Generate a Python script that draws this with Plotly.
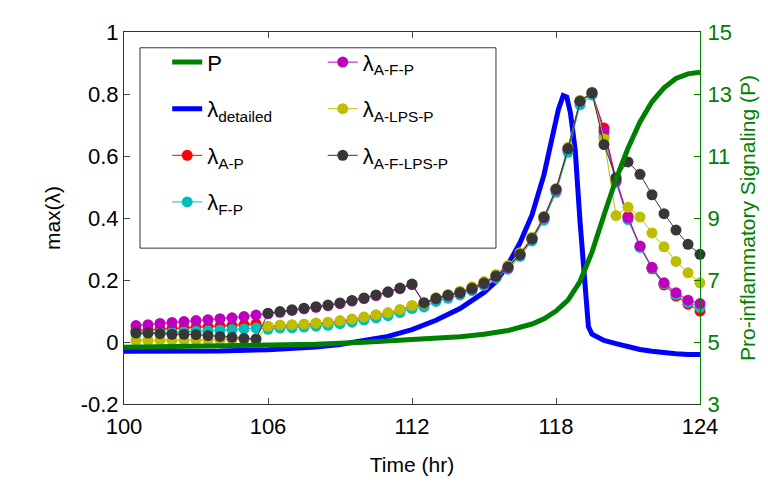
import plotly.graph_objects as go

# ---------------- data ----------------
t_dots = [100.5, 101, 101.5, 102, 102.5, 103, 103.5, 104, 104.5, 105, 105.5,
          106, 106.5, 107, 107.5, 108, 108.5, 109, 109.5, 110, 110.5, 111, 111.5, 112,
          112.5, 113, 113.5, 114, 114.5, 115, 115.5, 116, 116.5, 117, 117.5, 118,
          118.5, 119, 119.5, 120, 120.5, 121, 121.5, 122, 122.5, 123, 123.5, 124]

lam_AP = [0.037, 0.039, 0.041, 0.043, 0.045, 0.047, 0.049, 0.051, 0.053, 0.055, 0.058,
          0.048, 0.052, 0.053, 0.055, 0.058, 0.061, 0.066, 0.071, 0.078, 0.085, 0.092, 0.102, 0.115,
          0.121, 0.139, 0.149, 0.160, 0.174, 0.191, 0.214, 0.243, 0.284, 0.334, 0.401, 0.491,
          0.620, 0.775, 0.802, 0.690, 0.525, 0.405, 0.308, 0.236, 0.184, 0.148, 0.122, 0.100]

lam_FP = [0.027, 0.028, 0.030, 0.031, 0.033, 0.035, 0.036, 0.038, 0.040, 0.042, 0.045,
          0.041, 0.045, 0.046, 0.048, 0.051, 0.054, 0.059, 0.064, 0.071, 0.078, 0.085, 0.095, 0.108,
          0.113, 0.131, 0.141, 0.152, 0.166, 0.183, 0.206, 0.235, 0.276, 0.326, 0.393, 0.483,
          0.612, 0.765, 0.797, 0.662, 0.515, 0.395, 0.305, 0.238, 0.188, 0.153, 0.128, 0.112]

lam_AFP = [0.053, 0.056, 0.060, 0.063, 0.066, 0.069, 0.072, 0.075, 0.078, 0.082, 0.087,
           0.091, 0.096, 0.102, 0.107, 0.112, 0.117, 0.124, 0.132, 0.140, 0.150, 0.160, 0.172, 0.185,
           0.125, 0.139, 0.149, 0.158, 0.171, 0.188, 0.211, 0.240, 0.281, 0.332, 0.401, 0.491,
           0.624, 0.777, 0.804, 0.679, 0.520, 0.401, 0.310, 0.241, 0.191, 0.159, 0.135, 0.124]

lam_ALPSP = [0.005, 0.005, 0.006, 0.006, 0.006, 0.007, 0.007, 0.007, 0.008, 0.008, 0.008,
             0.051, 0.055, 0.056, 0.058, 0.061, 0.064, 0.069, 0.074, 0.081, 0.088, 0.095, 0.105, 0.118,
             0.125, 0.143, 0.153, 0.164, 0.178, 0.195, 0.218, 0.247, 0.288, 0.338, 0.405, 0.495,
             0.628, 0.780, 0.806, 0.655, 0.408, 0.435, 0.403, 0.352, 0.307, 0.260, 0.223, 0.191]

lam_AFLPSP = [0.029, 0.029, 0.027, 0.025, 0.025, 0.024, 0.021, 0.018, 0.015, 0.012, 0.010,
              0.093, 0.098, 0.104, 0.109, 0.114, 0.119, 0.126, 0.134, 0.142, 0.152, 0.162, 0.174, 0.187,
              0.127, 0.141, 0.151, 0.160, 0.173, 0.190, 0.213, 0.242, 0.283, 0.334, 0.403, 0.493,
              0.624, 0.777, 0.804, 0.637, 0.530, 0.581, 0.541, 0.475, 0.414, 0.361, 0.315, 0.283]

t_det = [100, 102, 104, 106, 107, 108, 109, 110, 111, 112, 113, 114, 115, 115.5, 116, 116.5,
         117, 117.5, 117.8, 118.1, 118.3, 118.45, 118.6, 118.8, 119.0, 119.2, 119.35, 119.5,
         120, 120.5, 121, 121.5, 122, 122.5, 123, 123.5, 124]
lam_det = [-0.030, -0.030, -0.029, -0.025, -0.022, -0.016, -0.008, 0.003, 0.018, 0.040, 0.070,
           0.108, 0.160, 0.195, 0.250, 0.320, 0.410, 0.540, 0.640, 0.750, 0.795, 0.790, 0.740,
           0.620, 0.390, 0.200, 0.050, 0.025, 0.005, -0.005, -0.016, -0.024, -0.030, -0.035,
           -0.038, -0.040, -0.040]

t_P = [100, 104, 106, 108, 110, 112, 114, 115, 116, 117, 117.5, 118, 118.5, 119, 119.5,
       120, 120.5, 121, 121.5, 122, 122.5, 123, 123.5, 124]
P_vals = [4.83, 4.86, 4.88, 4.93, 4.99, 5.07, 5.17, 5.25, 5.37, 5.58, 5.75, 6.0, 6.35, 6.95,
          7.9, 9.1, 10.25, 11.25, 12.1, 12.75, 13.2, 13.5, 13.65, 13.7]

x_ticks = [100, 106, 112, 118, 124]
y_ticks = [-0.2, 0, 0.2, 0.4, 0.6, 0.8, 1]
y_ticktext = ["-0.2", "0", "0.2", "0.4", "0.6", "0.8", "1"]
y2_ticks = [3, 5, 7, 9, 11, 13, 15]

# ---------------- figure ----------------
FONT = "Liberation Sans, Arial, Helvetica, sans-serif"
GREEN = "rgb(0,128,0)"
TICK = 22
TITLE = 21

fig = go.Figure()

fig.add_trace(go.Scatter(x=t_P, y=P_vals, yaxis="y2", mode="lines", name="P",
                         line=dict(color=GREEN, width=5), legend="legend",
                         legendgroup="g1", legendrank=1))
fig.add_trace(go.Scatter(x=t_det, y=lam_det, mode="lines", name="λ<sub>detailed</sub>",
                         line=dict(color="rgb(0,0,255)", width=5), legend="legend",
                         legendgroup="g2", legendrank=2))

dot_series = [
    ("λ<sub>A-P</sub>", lam_AP, "rgb(255,0,0)", "legend", 3),
    ("λ<sub>F-P</sub>", lam_FP, "rgb(0,190,190)", "legend", 4),
    ("λ<sub>A-F-P</sub>", lam_AFP, "rgb(190,0,190)", "legend2", 5),
    ("λ<sub>A-LPS-P</sub>", lam_ALPSP, "rgb(190,190,0)", "legend2", 6),
    ("λ<sub>A-F-LPS-P</sub>", lam_AFLPSP, "rgb(55,55,55)", "legend2", 7),
]
for name, vals, col, lg, rank in dot_series:
    fig.add_trace(go.Scatter(x=t_dots, y=vals, mode="lines+markers", name=name,
                             line=dict(color=col, width=1),
                             marker=dict(color=col, size=11),
                             legend=lg, legendgroup="g%d" % rank, legendrank=rank,
                             cliponaxis=False))

fig.update_layout(
    width=768, height=483,
    margin=dict(l=116, r=76, t=19, b=87),
    paper_bgcolor="white", plot_bgcolor="white",
    font=dict(family=FONT, size=TICK, color="black"),
    showlegend=True,
    xaxis=dict(range=[100, 124], tickvals=x_ticks, ticks="inside", ticklen=6,
               showline=True, linecolor="#333", linewidth=1, mirror="ticks",
               showgrid=False, zeroline=False, ticklabelstandoff=3,
               title=dict(text="Time (hr)", font=dict(size=TITLE), standoff=18),
               tickfont=dict(size=TICK)),
    yaxis=dict(range=[-0.2, 1], tickvals=y_ticks, ticktext=y_ticktext, ticks="inside",
               ticklen=6, showline=True, linecolor="#333", linewidth=1,
               showgrid=False, zeroline=False,
               title=dict(text="max(λ)", font=dict(size=TITLE), standoff=14),
               tickfont=dict(size=TICK)),
    yaxis2=dict(range=[3, 15], tickvals=y2_ticks, ticks="inside", ticklen=6,
                overlaying="y", side="right", showline=True, linecolor=GREEN,
                linewidth=1, tickcolor=GREEN, showgrid=False, zeroline=False,
                ticklabelstandoff=2,
                tickfont=dict(size=TICK, color=GREEN),
                title=dict(text="Pro-inflammatory Signaling (P)",
                           font=dict(size=TITLE, color=GREEN), standoff=9)),
    legend=dict(x=0.075, y=0.975, xanchor="left", yanchor="top",
                bgcolor="rgba(0,0,0,0)", borderwidth=0, tracegroupgap=15,
                font=dict(size=22, family=FONT)),
    legend2=dict(x=0.345, y=0.975, xanchor="left", yanchor="top",
                 bgcolor="rgba(0,0,0,0)", borderwidth=0, tracegroupgap=15,
                 font=dict(size=22, family=FONT)),
    shapes=[dict(type="rect", xref="paper", yref="paper",
                 x0=0.0278, x1=0.6458, y0=0.419, y1=0.9576,
                 line=dict(color="#333", width=1), fillcolor="white", layer="below")],
)

fig.write_html("out.html")
